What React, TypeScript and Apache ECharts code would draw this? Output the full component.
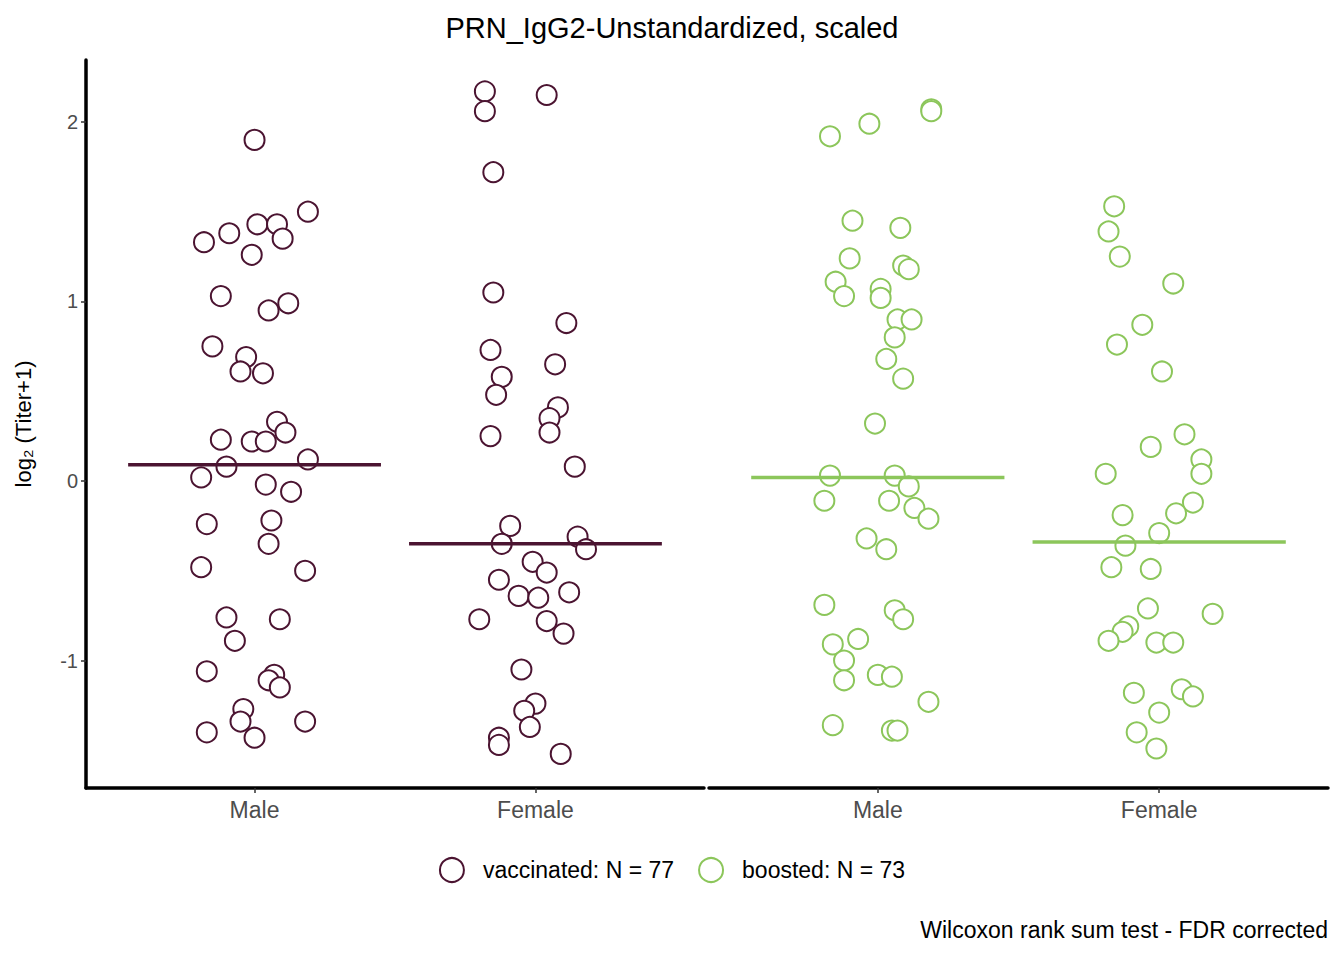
import React, { useEffect, useRef } from 'react';
import * as echarts from 'echarts';

const categories = ['Male', 'Female'];
const groups = ['vaccinated: N = 77', 'boosted: N = 73'];
const colors = ['#4b1431', '#8cc65b'];
const yTicks = [-1, 0, 1, 2];

// [jitter offset from category centre, log2 value]
const vaccinatedMale = [
  [0.0, 1.9], [0.19, 1.5], [-0.18, 1.33], [-0.09, 1.38], [0.01, 1.43], [0.08, 1.43], [0.1, 1.35], [-0.01, 1.26],
  [-0.12, 1.03], [0.12, 0.99], [0.05, 0.95], [-0.15, 0.75], [-0.03, 0.69], [-0.05, 0.61], [0.03, 0.6], [0.08, 0.33],
  [-0.12, 0.23], [-0.01, 0.22], [0.04, 0.22], [0.11, 0.27], [0.19, 0.12], [-0.1, 0.08], [-0.19, 0.02], [0.04, -0.02],
  [0.13, -0.06], [-0.17, -0.24], [0.06, -0.22], [0.05, -0.35], [-0.19, -0.48], [0.18, -0.5], [-0.1, -0.76], [0.09, -0.77],
  [-0.07, -0.89], [-0.17, -1.06], [0.07, -1.08], [0.05, -1.11], [0.09, -1.15], [-0.04, -1.27], [-0.05, -1.34], [0.18, -1.34],
  [-0.17, -1.4], [0.0, -1.43],
];
const vaccinatedFemale = [
  [-0.18, 2.17], [-0.18, 2.06], [0.04, 2.15], [-0.15, 1.72], [-0.15, 1.05], [0.11, 0.88], [-0.16, 0.73], [-0.12, 0.58],
  [0.07, 0.65], [-0.14, 0.48], [0.08, 0.41], [0.05, 0.35], [0.05, 0.27], [-0.16, 0.25], [0.14, 0.08], [-0.09, -0.25],
  [-0.12, -0.35], [0.15, -0.31], [0.18, -0.38], [-0.01, -0.45], [0.04, -0.51], [-0.13, -0.55], [-0.06, -0.64], [0.01, -0.65],
  [0.12, -0.62], [-0.2, -0.77], [0.04, -0.78], [0.1, -0.85], [-0.05, -1.05], [0.0, -1.24], [-0.04, -1.28], [-0.02, -1.37],
  [-0.13, -1.43], [-0.13, -1.47], [0.09, -1.52],
];
const boostedMale = [
  [-0.17, 1.92], [-0.03, 1.99], [0.19, 2.07], [0.19, 2.06], [-0.09, 1.45], [0.08, 1.41], [-0.1, 1.24], [-0.15, 1.11],
  [0.01, 1.07], [0.09, 1.2], [0.11, 1.18], [-0.12, 1.03], [0.01, 1.02], [0.07, 0.9], [0.12, 0.9], [0.06, 0.8],
  [0.03, 0.68], [0.09, 0.57], [-0.01, 0.32], [-0.17, 0.03], [0.06, 0.03], [0.11, -0.03], [-0.19, -0.11], [0.04, -0.11],
  [0.13, -0.15], [0.18, -0.21], [-0.04, -0.32], [0.03, -0.38], [-0.19, -0.69], [0.06, -0.72], [0.09, -0.77], [-0.16, -0.91],
  [-0.07, -0.88], [-0.12, -1.0], [-0.12, -1.11], [0.0, -1.08], [0.05, -1.09], [0.18, -1.23], [-0.16, -1.36], [0.05, -1.39],
  [0.07, -1.39],
];
const boostedFemale = [
  [-0.16, 1.53], [-0.18, 1.39], [-0.14, 1.25], [0.05, 1.1], [-0.06, 0.87], [-0.15, 0.76], [0.01, 0.61], [0.09, 0.26],
  [-0.03, 0.19], [0.15, 0.12], [0.15, 0.04], [-0.19, 0.04], [0.12, -0.12], [0.06, -0.18], [-0.13, -0.19], [0.0, -0.29],
  [-0.12, -0.36], [-0.17, -0.48], [-0.03, -0.49], [-0.04, -0.71], [0.19, -0.74], [-0.11, -0.81], [-0.13, -0.84], [-0.18, -0.89],
  [-0.01, -0.9], [0.05, -0.9], [-0.09, -1.18], [0.08, -1.16], [0.12, -1.2], [0.0, -1.29], [-0.08, -1.4], [-0.01, -1.49],
];
const medians = [[0.09, -0.35], [0.02, -0.34]];

const pointSets = [[vaccinatedMale, vaccinatedFemale], [boostedMale, boostedFemale]];

export default function App() {
  const chartRef = useRef<HTMLDivElement>(null);

  useEffect(() => {
    document.body.style.margin = '0';
    if (!chartRef.current) return;
    const chart = echarts.init(chartRef.current, null, { renderer: 'svg' });
    const font = 'Liberation Sans, Arial, sans-serif';

    const axisLine = { show: true, onZero: false, lineStyle: { color: '#000', width: 3.5 } };
    const xAxis = [0, 1].map((i) => ({
      type: 'value' as const,
      gridIndex: i,
      min: 0.4,
      max: 2.6,
      splitLine: { show: false },
      axisLine,
      axisTick: { show: true, customValues: [1, 2], length: 5, lineStyle: { color: '#333', width: 1.5 } },
      axisLabel: {
        customValues: [1, 2],
        formatter: (v: number) => categories[Math.round(v) - 1] ?? '',
        color: '#4d4d4d', fontSize: 23, fontFamily: font, margin: 10,
      },
    }));
    const yAxis = [0, 1].map((i) => ({
      type: 'value' as const,
      gridIndex: i,
      min: -1.71,
      max: 2.345,
      splitLine: { show: false },
      axisLine: { ...axisLine, show: i === 0 },
      axisTick: { show: i === 0, customValues: yTicks, length: 5, lineStyle: { color: '#333', width: 1.5 } },
      axisLabel: { show: i === 0, customValues: yTicks, color: '#4d4d4d', fontSize: 20, fontFamily: font, margin: 8 },
      name: i === 0 ? 'log\u2082 (Titer+1)' : '',
      nameLocation: 'middle' as const,
      nameGap: 52,
      nameTextStyle: { color: '#000', fontSize: 22, fontFamily: font },
    }));

    const series: any[] = [];
    pointSets.forEach((sets, g) => {
      series.push({
        name: groups[g],
        type: 'scatter',
        xAxisIndex: g,
        yAxisIndex: g,
        symbol: 'emptyCircle',
        symbolSize: 20,
        itemStyle: { color: colors[g], borderColor: colors[g], borderWidth: 3, opacity: 1 },
        data: sets.flatMap((pts, c) => pts.map(([j, v]) => [c + 1 + j, v])),
      });
      medians[g].forEach((m, c) => {
        series.push({
          type: 'line',
          xAxisIndex: g,
          yAxisIndex: g,
          symbol: 'none',
          silent: true,
          lineStyle: { color: colors[g], width: 3.5 },
          data: [[c + 1 - 0.45, m], [c + 1 + 0.45, m]],
        });
      });
    });

    chart.setOption({
      animation: false,
      title: {
        text: 'PRN_IgG2-Unstandardized, scaled',
        left: 'center',
        top: 8,
        textStyle: { color: '#000', fontSize: 29, fontWeight: 'normal', fontFamily: font },
      },
      grid: [
        { left: 86, right: 640, top: 60, bottom: 172 },
        { left: 709, right: 16, top: 60, bottom: 172 },
      ],
      xAxis,
      yAxis,
      legend: {
        data: groups,
        bottom: 72,
        left: 'center',
        icon: 'emptyCircle',
        itemWidth: 24,
        itemHeight: 24,
        itemGap: 24,
        itemStyle: { borderWidth: 3 },
        textStyle: { color: '#000', fontSize: 23, fontFamily: font, padding: [0, 0, 0, 14] },
      },
      graphic: [{
        type: 'text',
        right: 16,
        top: 918,
        style: { text: 'Wilcoxon rank sum test - FDR corrected', fontSize: 23, fill: '#000', fontFamily: font },
      }],
      series,
    });
    return () => chart.dispose();
  }, []);

  return <div ref={chartRef} style={{ width: 1344, height: 960 }} />;
}
